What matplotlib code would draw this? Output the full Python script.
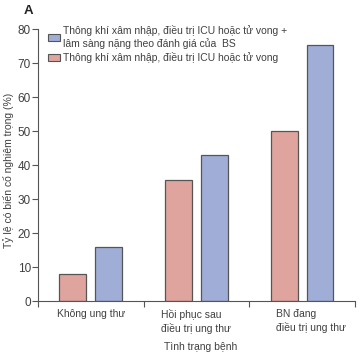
import matplotlib.pyplot as plt
import numpy as np
from matplotlib.patches import Patch

plt.rcParams['font.family'] = ['Liberation Sans', 'DejaVu Sans']

# du lieu
nhom = ['Không ung thư', 'Hồi phục sau\nđiều trị ung thư', 'BN đang\nđiều trị ung thư']
thong_khi = [8, 35.5, 50]          # Thông khí xâm nhập, ICU hoặc tử vong
thong_khi_bs = [15.8, 43, 75.2]    # + lâm sàng nặng theo BS
nhan_y = [0, 10, 20, 30, 40, 50, 60, 70, 80]

mau_do = '#e0a49e'
mau_xanh = '#a0aed7'
mau_vien = '#555555'
mau_chu = '#404040'

fig = plt.figure(figsize=(3.64, 3.55), dpi=100)
ax = fig.add_axes([0.104, 0.152, 0.871, 0.766])

x = np.arange(len(nhom)) + 0.5
w = 0.255
ax.bar(x - 0.17, thong_khi, w, color=mau_do, edgecolor=mau_vien, linewidth=0.9)
ax.bar(x + 0.17, thong_khi_bs, w, color=mau_xanh, edgecolor=mau_vien, linewidth=0.9)

ax.set_xlim(0, 3)
ax.set_ylim(0, 80)
ax.set_yticks(nhan_y)
ax.set_xticks([0, 1, 2, 3])
ax.set_xticklabels([])
ax.tick_params(axis='both', colors=mau_vien, labelcolor=mau_chu, labelsize=8.5,
               length=4, width=0.8, pad=1)
for s in ['top', 'right']:
    ax.spines[s].set_visible(False)
for s in ['left', 'bottom']:
    ax.spines[s].set_color(mau_vien)
    ax.spines[s].set_linewidth(0.8)

dx = [0, 0, 0.08]
for i, ten in enumerate(nhom):
    ax.text(x[i] + dx[i], -2.4, ten, ha='center', va='top', ma='left',
            fontsize=7.5, color=mau_chu, linespacing=1.3)

fig.text(0.55, 0.022, 'Tình trạng bệnh', ha='center', va='center', fontsize=7.5, color=mau_chu)
fig.text(0.022, 0.52, 'Tỷ lệ có biến cố nghiêm trọng (%)', rotation=90, ha='center',
         va='center', fontsize=7.5, color=mau_chu)
fig.text(0.065, 0.97, 'A', ha='left', va='center', fontsize=9.5, fontweight='bold',
         color='#222222')

handles = [Patch(facecolor=mau_xanh, edgecolor=mau_vien, linewidth=0.8),
           Patch(facecolor=mau_do, edgecolor=mau_vien, linewidth=0.8)]
labels = ['Thông khí xâm nhập, điều trị ICU hoặc tử vong +\nlâm sàng nặng theo đánh giá của  BS',
          'Thông khí xâm nhập, điều trị ICU hoặc tử vong']
leg = ax.legend(handles, labels, loc='upper left', bbox_to_anchor=(0.02, 1.03),
                frameon=False, fontsize=7.5, handlelength=1.1, handleheight=0.6,
                handletextpad=0.3, labelspacing=0.3, borderaxespad=0)
for t in leg.get_texts():
    t.set_color(mau_chu)

fig.savefig('out.png', dpi=100)
